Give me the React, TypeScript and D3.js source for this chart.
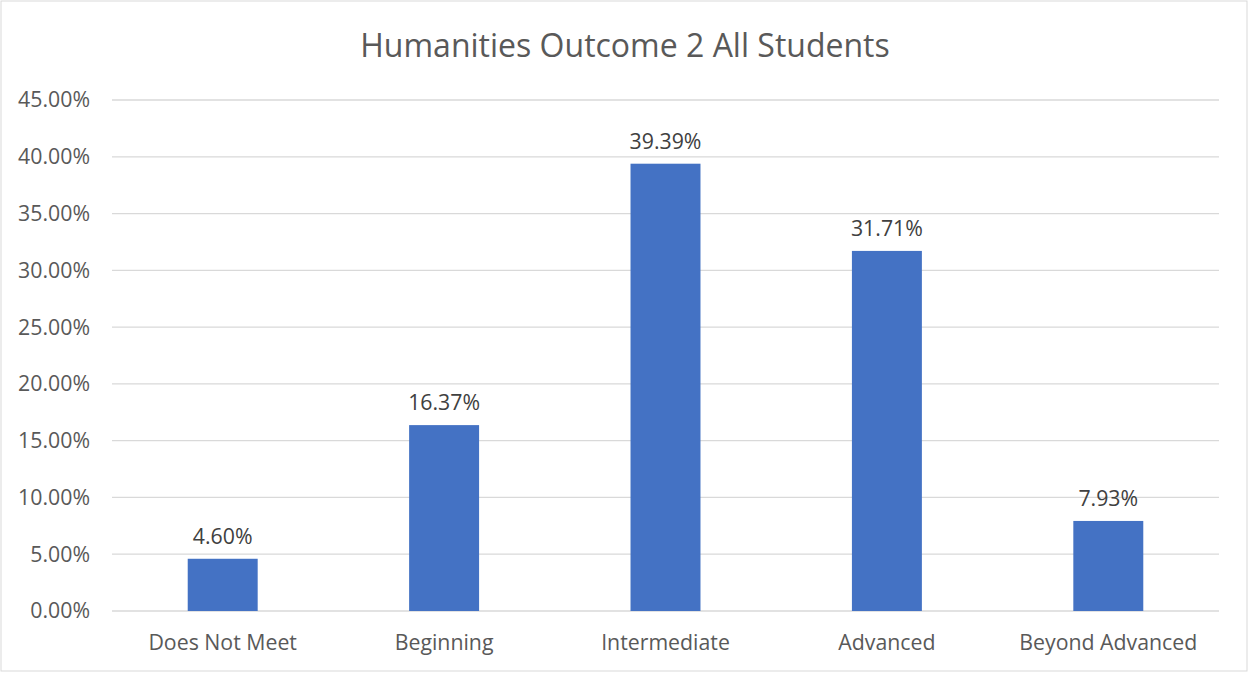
import React from "react";
import * as d3 from "d3";

const categories = ["Does Not Meet", "Beginning", "Intermediate", "Advanced", "Beyond Advanced"];
const values = [4.6, 16.37, 39.39, 31.71, 7.93];
const yTicks = [0, 5, 10, 15, 20, 25, 30, 35, 40, 45];
const title = "Humanities Outcome 2 All Students";

const W = 1249;
const H = 673;
const left = 112;
const right = 1219;
const top = 100;
const bottom = 611;
const FONT = "'Open Sans', sans-serif";

export default function App() {
  const x = d3.scaleBand<string>().domain(categories).range([left, right]).padding(0);
  const y = d3.scaleLinear().domain([0, 45]).range([bottom, top]);
  const barW = x.bandwidth() * 0.316;
  return (
    <svg width={W} height={H} style={{ position: "absolute", left: 0, top: 0 }}>
      <rect x={0} y={0} width={W} height={H} fill="#fff" />
      <rect x={1} y={1} width={W - 3} height={H - 3} fill="none" stroke="#d9d9d9" strokeWidth={1} />
      <text x={625} y={57} textAnchor="middle" fontFamily={FONT} fontSize={32} fill="#595959">
        {title}
      </text>
      {yTicks.map((t) => (
        <g key={t}>
          <line x1={left} x2={right} y1={y(t)} y2={y(t)} stroke="#d9d9d9" strokeWidth={1.3} />
          <text x={90} y={y(t)} dy="0.35em" textAnchor="end" fontFamily={FONT} fontSize={21.3} fill="#595959">
            {d3.format(".2f")(t) + "%"}
          </text>
        </g>
      ))}
      {categories.map((c, i) => {
        const cx = (x(c) as number) + x.bandwidth() / 2;
        return (
          <g key={c}>
            <rect x={cx - barW / 2} y={y(values[i])} width={barW} height={y(0) - y(values[i])} fill="#4472c4" />
            <text x={cx} y={y(values[i]) - 15} textAnchor="middle" fontFamily={FONT} fontSize={21.3} fill="#404040">
              {d3.format(".2f")(values[i]) + "%"}
            </text>
            <text x={cx} y={650} textAnchor="middle" fontFamily={FONT} fontSize={21.3} fill="#595959">
              {c}
            </text>
          </g>
        );
      })}
    </svg>
  );
}
